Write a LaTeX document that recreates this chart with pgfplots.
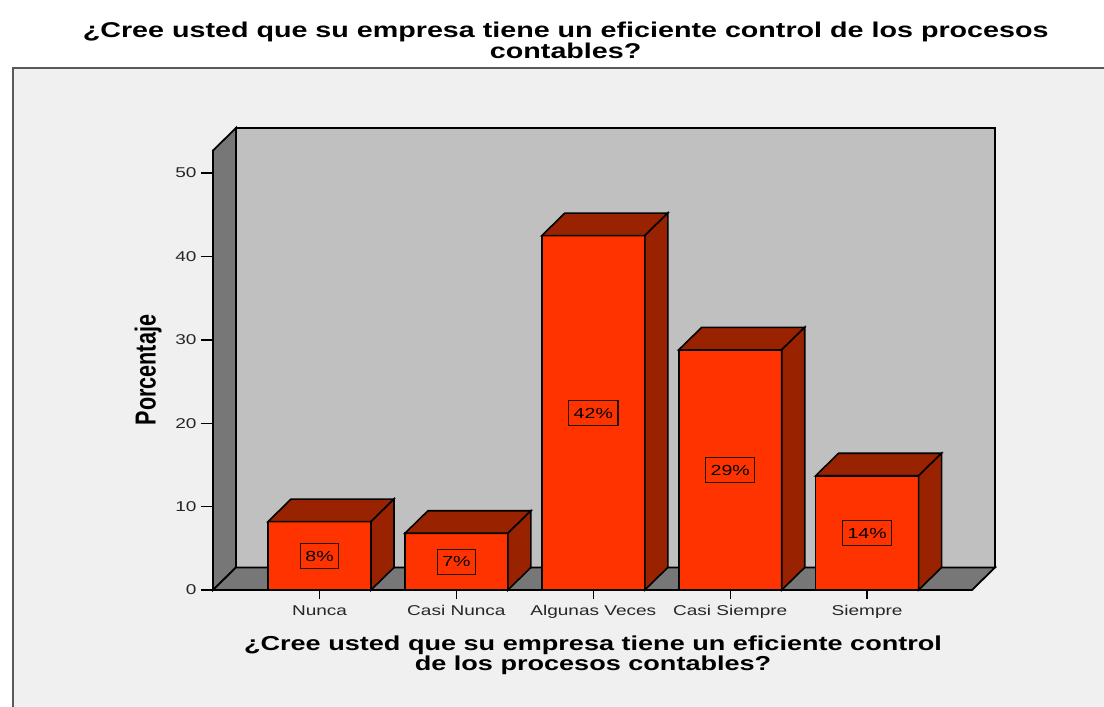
\documentclass[border=0pt]{standalone}
\usepackage{graphicx}
\usepackage{pgfplots}
\pgfplotsset{compat=1.18}
\usepackage{fontspec}
\setmainfont{Liberation Sans}
\newfontfamily\ls[FakeStretch=1.34]{Liberation Sans}
\newfontfamily\lsn{Liberation Sans}
\definecolor{barfront}{RGB}{255,51,0}
\definecolor{bardark}{RGB}{153,34,0}
\definecolor{wallback}{RGB}{192,192,192}
\definecolor{wallside}{RGB}{119,119,119}
\definecolor{bgpanel}{RGB}{240,240,240}
\begin{document}
\begin{tikzpicture}
\useasboundingbox (0,0) rectangle (552bp,353.5bp);
\clip (0,0) rectangle (552bp,353.5bp);
\fill[white] (0,0) rectangle (552bp,353.5bp);
\filldraw[fill=bgpanel, draw=black!65, line width=1bp] (6.5bp,-10bp) rectangle (580bp,319.5bp);
\begin{axis}[
  at={(106.5bp,58.5bp)}, anchor=south west,
  scale only axis, width=391bp, height=231bp,
  xmin=-0.778, xmax=4.934, ymin=0, ymax=55.4,
  enlargelimits=false, clip=false,
  axis lines*=left, axis line style={draw=none},
  tick align=outside,
  xtick={0,1,2,3,4},
  xticklabels={Nunca, Casi Nunca, Algunas Veces, Casi Siempre, Siempre},
  ytick={0,10,20,30,40,50},
  /pgf/number format/assume math mode=true,
  tick label style={font=\ls\fontsize{7.1bp}{8bp}\selectfont, text=black!85},
  xtick style={draw=black, line width=0.7bp, /pgfplots/major tick length=4.5bp},
  ytick style={draw=black, line width=0.7bp, /pgfplots/major tick length=6bp},
  yticklabel style={xshift=-0.5bp},
  ylabel={\scalebox{1}[1.34]{Porcentaje}},
  ylabel style={at={(axis description cs:-0.083,0.476)}, anchor=center,
    font=\lsn\bfseries\fontsize{10.8bp}{11bp}\selectfont},
  xlabel={¿Cree usted que su empresa tiene un eficiente control\\de los procesos contables?},
  xlabel style={at={(axis description cs:0.486,-0.1407)}, anchor=center, align=center,
    font=\ls\bfseries\fontsize{10.1bp}{9.8bp}\selectfont},
  title={¿Cree usted que su empresa tiene un eficiente control de los procesos\\contables?},
  title style={at={(axis description cs:0.451,1.164)}, anchor=center, align=center,
    font=\ls\bfseries\fontsize{10.7bp}{10.5bp}\selectfont},
]
% back wall
\addplot[fill=wallback, draw=black, line width=0.9bp] coordinates
  {(-0.61,2.7) (4.934,2.7) (4.934,55.4) (-0.61,55.4)} --cycle;
% left wall
\addplot[fill=wallside, draw=black, line width=0.9bp] coordinates
  {(-0.778,0) (-0.61,2.7) (-0.61,55.4) (-0.778,52.7)} --cycle;
% floor
\addplot[fill=wallside, draw=black, line width=0.9bp] coordinates
  {(-0.778,0) (4.766,0) (4.934,2.7) (-0.61,2.7)} --cycle;
% bars: front faces
\addplot[ybar, bar width=0.752, fill=barfront, draw=black, line width=0.8bp] coordinates
  {(0,8.2) (1,6.8) (2,42.5) (3,28.8) (4,13.7)};
% top faces
\addplot[fill=bardark, draw=black, line width=0.8bp] coordinates {(-0.376,8.2) (-0.208,10.9) (0.544,10.9) (0.376,8.2)} --cycle;
\addplot[fill=bardark, draw=black, line width=0.8bp] coordinates {(0.624,6.8) (0.792,9.5) (1.544,9.5) (1.376,6.8)} --cycle;
\addplot[fill=bardark, draw=black, line width=0.8bp] coordinates {(1.624,42.5) (1.792,45.2) (2.544,45.2) (2.376,42.5)} --cycle;
\addplot[fill=bardark, draw=black, line width=0.8bp] coordinates {(2.624,28.8) (2.792,31.5) (3.544,31.5) (3.376,28.8)} --cycle;
\addplot[fill=bardark, draw=black, line width=0.8bp] coordinates {(3.624,13.7) (3.792,16.4) (4.544,16.4) (4.376,13.7)} --cycle;
% side faces
\addplot[fill=bardark, draw=black, line width=0.8bp] coordinates {(0.376,0) (0.544,2.7) (0.544,10.9) (0.376,8.2)} --cycle;
\addplot[fill=bardark, draw=black, line width=0.8bp] coordinates {(1.376,0) (1.544,2.7) (1.544,9.5) (1.376,6.8)} --cycle;
\addplot[fill=bardark, draw=black, line width=0.8bp] coordinates {(2.376,0) (2.544,2.7) (2.544,45.2) (2.376,42.5)} --cycle;
\addplot[fill=bardark, draw=black, line width=0.8bp] coordinates {(3.376,0) (3.544,2.7) (3.544,31.5) (3.376,28.8)} --cycle;
\addplot[fill=bardark, draw=black, line width=0.8bp] coordinates {(4.376,0) (4.544,2.7) (4.544,16.4) (4.376,13.7)} --cycle;
% value labels at half height
\addplot[only marks, mark=none, point meta=explicit symbolic,
  nodes near coords,
  nodes near coords style={anchor=center, fill=barfront, draw=black!80!bardark, line width=0.6bp,
    text=black, font=\ls\fontsize{7.3bp}{8bp}\selectfont,
    text height=5.3bp, text depth=0pt, inner xsep=2.5bp, inner ysep=3.6bp}]
  coordinates {(0,4.1) [8\%] (1,3.4) [7\%] (2,21.25) [42\%] (3,14.4) [29\%] (4,6.85) [14\%]};
\end{axis}
\end{tikzpicture}
\end{document}
